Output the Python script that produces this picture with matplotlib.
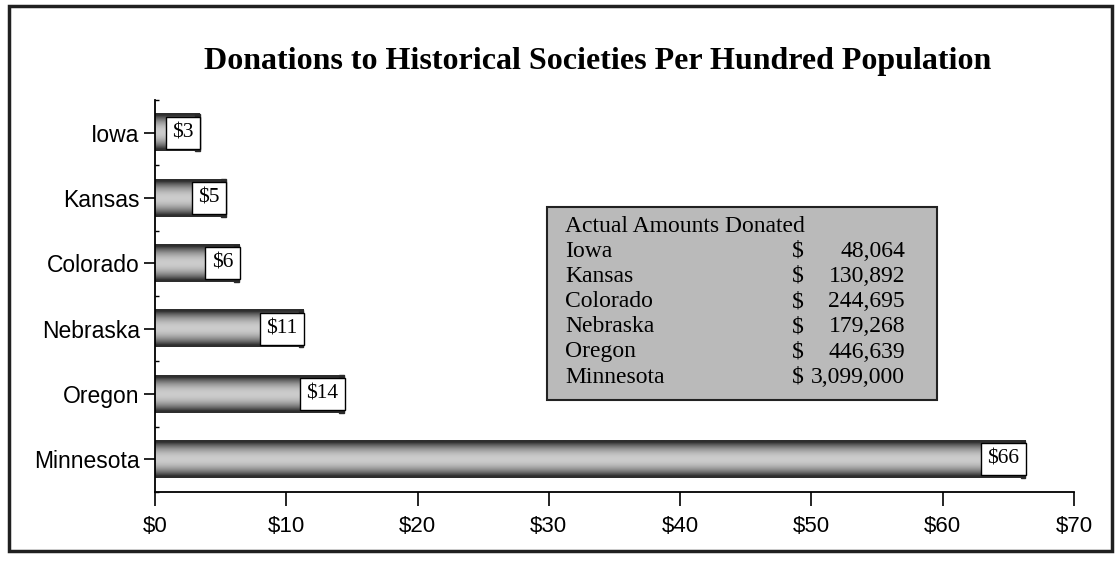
"""Donations to historical societies per hundred population (horizontal bars)."""

import matplotlib
matplotlib.use("Agg")
import matplotlib.pyplot as plt
import numpy as np
from matplotlib.patches import Rectangle

STATES = ["Iowa", "Kansas", "Colorado", "Nebraska", "Oregon", "Minnesota"]
PER_HUNDRED = [3.4, 5.4, 6.4, 11.3, 14.4, 66.3]
ACTUAL = ["48,064", "130,892", "244,695", "179,268", "446,639", "3,099,000"]
XTICKS = [0, 10, 20, 30, 40, 50, 60, 70]

SERIF = "Liberation Serif"
SANS = "Liberation Sans"

W, H = 1115, 580


def fx(px):
    return px / W


def fy(py):
    return 1 - py / H


def main() -> None:
    fig = plt.figure(figsize=(W / 100, H / 100), dpi=100)
    ax = fig.add_axes([fx(155), fy(492), fx(1074) - fx(155), fy(100) - fy(492)])

    # outer frame
    fig.patches.append(Rectangle((fx(9), fy(551)), fx(1112) - fx(9), fy(6) - fy(551),
                                 transform=fig.transFigure, fill=False,
                                 ec="#202020", lw=2.5))

    # shaded bars: dark edges, light middle
    t = np.linspace(-1, 1, 40)
    shade = 0.18 + 0.62 * np.clip(1 - np.abs(t) ** 2.0 * 1.2, 0, 1)
    grad = shade[:, None]
    h = 0.57
    ys = np.arange(len(STATES))
    for y, v in zip(ys, PER_HUNDRED):
        ax.imshow(grad, cmap="gray", vmin=0, vmax=1, aspect="auto",
                  extent=[0, v, y + h / 2, y - h / 2], interpolation="bilinear", zorder=2)
        ax.add_patch(Rectangle((v - 0.35, y - h / 2), 0.35, h, color="#2a2a2a", zorder=3))
        ax.text(v - 0.45, y, f"${round(v)}", ha="right", va="center",
                fontsize=15.5, family=SERIF, zorder=4,
                bbox=dict(boxstyle="square,pad=0.3", fc="white", ec="black", lw=1))

    ax.set_xlim(0, 70)
    ax.set_ylim(len(STATES) - 0.5, -0.5)
    ax.set_yticks(ys)
    ax.set_yticklabels(STATES, family=SANS, fontsize=16.5)
    ax.set_yticks(np.arange(len(STATES) + 1) - 0.5, minor=True)
    ax.set_xticks(XTICKS)
    ax.set_xticklabels([f"${x}" for x in XTICKS], family=SANS, fontsize=16)
    ax.tick_params(axis="y", which="major", length=8, width=1.2, pad=3)
    ax.tick_params(axis="y", which="minor", direction="in", length=3, width=1)
    ax.tick_params(axis="x", length=10, width=1.2, pad=7)
    for s in ("top", "right"):
        ax.spines[s].set_visible(False)
    for s in ("left", "bottom"):
        ax.spines[s].set_linewidth(1.3)

    fig.text(fx(598), fy(61), "Donations to Historical Societies Per Hundred Population",
             ha="center", va="center", fontsize=23, fontweight="bold", family=SERIF)

    # inset table of actual amounts
    fig.patches.append(Rectangle((fx(547), fy(400)), fx(937) - fx(547), fy(207) - fy(400),
                                 transform=fig.transFigure, fc="#bababa", ec="#222222",
                                 lw=1.5, zorder=5))
    row0, step = 226, 25.2
    fs = 17
    fig.text(fx(565), fy(row0), "Actual Amounts Donated", ha="left", va="center",
             fontsize=fs, family=SERIF, zorder=6)
    for i, (name, amt) in enumerate(zip(STATES, ACTUAL)):
        yy = fy(row0 + step * (i + 1))
        fig.text(fx(565), yy, name, ha="left", va="center", fontsize=fs,
                 family=SERIF, zorder=6)
        fig.text(fx(792), yy, "$", ha="left", va="center", fontsize=fs,
                 family=SERIF, zorder=6)
        fig.text(fx(905), yy, amt, ha="right", va="center", fontsize=fs,
                 family=SERIF, zorder=6)

    fig.savefig("out.png", dpi=100)


if __name__ == "__main__":
    main()
